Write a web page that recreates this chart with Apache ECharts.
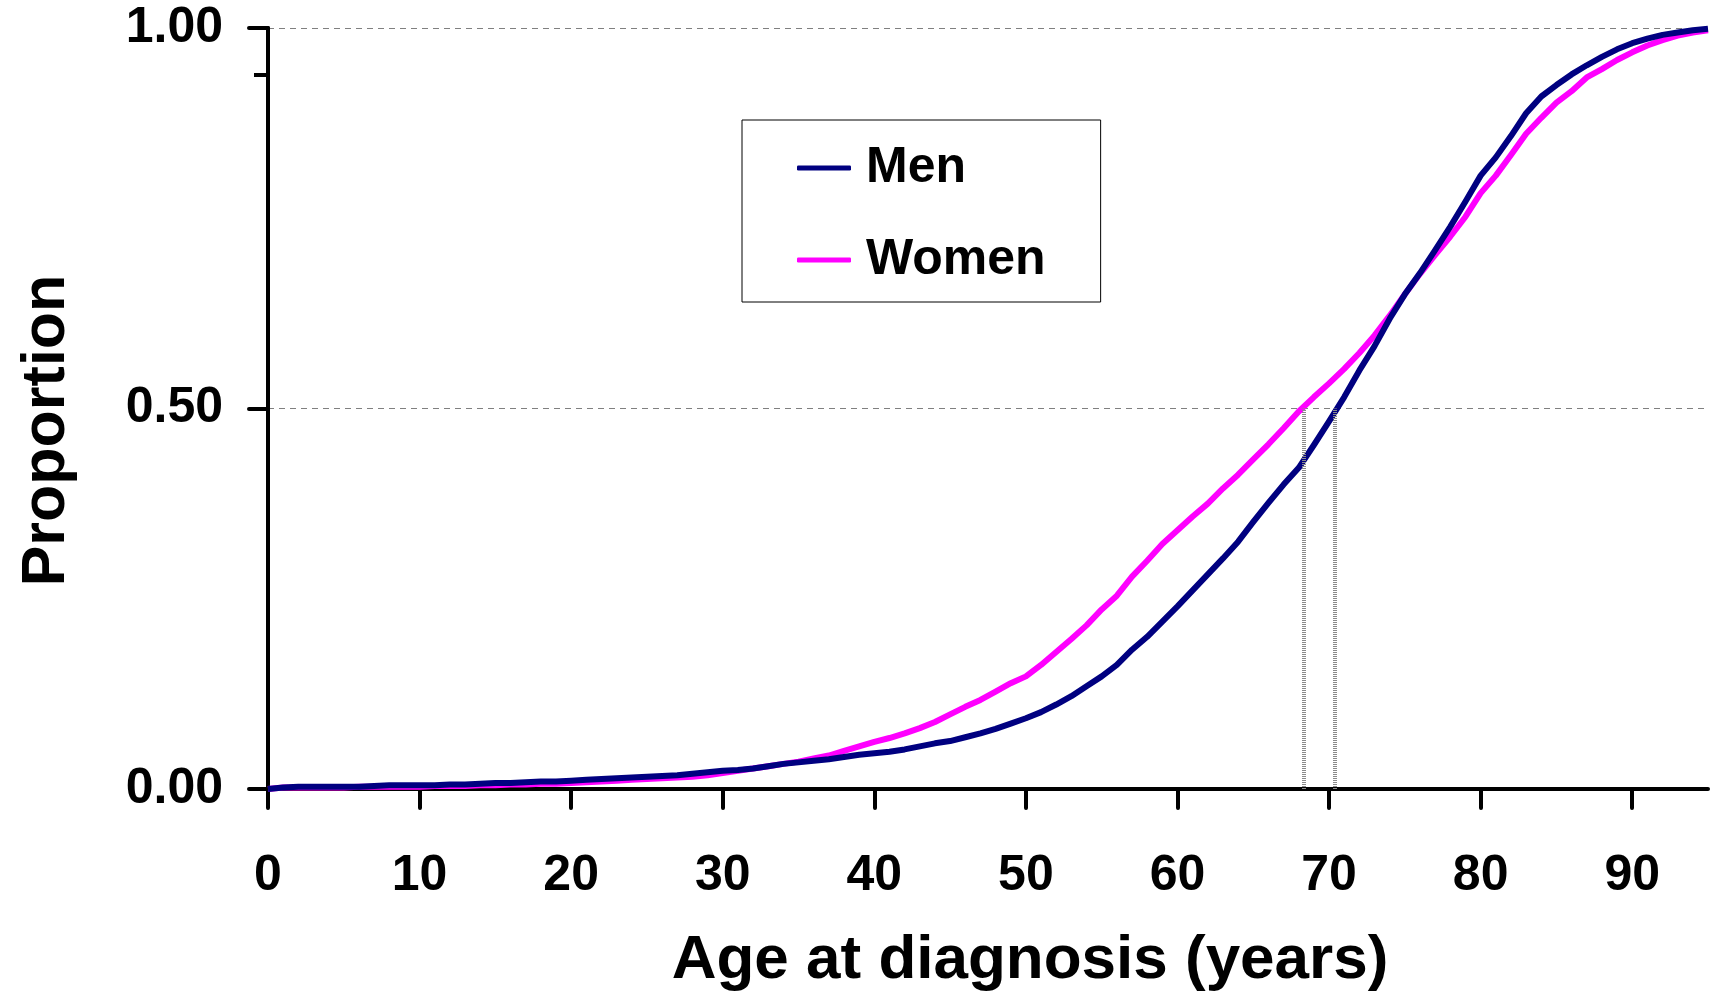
<!DOCTYPE html>
<html>
<head>
<meta charset="utf-8">
<script src="https://cdn.jsdelivr.net/npm/echarts@6/dist/echarts.min.js"></script>
<style>
html,body{margin:0;padding:0;background:#fff;}
#chart{width:1711px;height:992px;}
</style>
</head>
<body>
<div id="chart"></div>
<script>
const ages = [];
for (let a = 0; a <= 95; a++) ages.push(a);

const men = [
  0.000,0.002,0.003,0.003,0.003,0.003,0.003,0.004,0.005,0.005,
  0.005,0.005,0.006,0.006,0.007,0.008,0.008,0.009,0.010,0.010,
  0.011,0.012,0.013,0.014,0.015,0.016,0.017,0.018,0.020,0.022,
  0.024,0.025,0.027,0.030,0.033,0.035,0.037,0.039,0.042,0.045,
  0.047,0.049,0.052,0.056,0.060,0.063,0.068,0.073,0.079,0.086,
  0.093,0.101,0.111,0.122,0.135,0.148,0.163,0.183,0.200,0.220,
  0.240,0.261,0.282,0.303,0.325,0.351,0.376,0.400,0.422,0.452,
  0.483,0.515,0.550,0.582,0.618,0.650,0.678,0.708,0.739,0.772,
  0.806,0.830,0.858,0.888,0.910,0.925,0.939,0.951,0.962,0.972,
  0.980,0.986,0.991,0.994,0.997,0.999
];
const women = [
  0.000,0.002,0.002,0.002,0.002,0.002,0.003,0.003,0.003,0.003,
  0.003,0.004,0.004,0.004,0.005,0.005,0.006,0.006,0.007,0.007,
  0.008,0.009,0.010,0.011,0.012,0.013,0.014,0.015,0.016,0.018,
  0.021,0.024,0.027,0.030,0.033,0.036,0.040,0.044,0.050,0.056,
  0.062,0.067,0.073,0.080,0.088,0.098,0.108,0.117,0.128,0.139,
  0.148,0.163,0.180,0.197,0.215,0.236,0.254,0.279,0.300,0.322,
  0.340,0.358,0.375,0.395,0.413,0.433,0.453,0.474,0.496,0.515,
  0.533,0.552,0.573,0.596,0.622,0.650,0.677,0.702,0.726,0.752,
  0.783,0.806,0.833,0.861,0.882,0.902,0.917,0.935,0.946,0.958,
  0.968,0.977,0.984,0.990,0.994,0.997
];
const medianAges = [68.3, 70.4];
const xTicks = [0,10,20,30,40,50,60,70,80,90];
const yExtraTick = [0.938];

const FONT = '"Liberation Sans", Arial, sans-serif';

const chart = echarts.init(document.getElementById('chart'), null, {renderer: 'canvas'});
const option = {
  backgroundColor: '#ffffff',
  animation: false,
  grid: {left: 268, right: 3, top: 28, bottom: 203, containLabel: false, outerBoundsMode: 'none'},
  legend: {
    orient: 'vertical',
    left: 742, top: 120,
    borderColor: '#000', borderWidth: 1,
    padding: [23, 55, 17, 55],
    itemGap: 42,
    itemWidth: 54, itemHeight: 5,
    icon: 'roundRect',
    textStyle: {fontFamily: FONT, fontWeight: 'bold', fontSize: 50, color: '#000', padding: [0,0,0,10]},
    data: ['Men', 'Women']
  },
  xAxis: {
    type: 'value', min: 0, max: 95, interval: 10,
    name: 'Age at diagnosis (years)',
    nameLocation: 'middle', nameGap: 141,
    nameTextStyle: {fontFamily: FONT, fontWeight: 'bold', fontSize: 62, color: '#000', padding: [0,0,0,84]},
    axisLine: {onZero: false, lineStyle: {color: '#000', width: 4}},
    axisTick: {show: true, inside: false, length: 19, lineStyle: {color: '#000', width: 4, cap: 'round'}, customValues: xTicks},
    axisLabel: {fontFamily: FONT, fontWeight: 'bold', fontSize: 50, color: '#000', margin: 62, customValues: xTicks},
    splitLine: {show: false}
  },
  yAxis: [{
    type: 'value', min: 0, max: 1, interval: 0.5,
    name: 'Proportion',
    nameLocation: 'middle', nameGap: 190, nameRotate: 90,
    nameTextStyle: {fontFamily: FONT, fontWeight: 'bold', fontSize: 61, color: '#000', padding: [0,44,0,0]},
    axisLine: {show: true, onZero: false, lineStyle: {color: '#000', width: 4}},
    axisTick: {show: true, length: 19, lineStyle: {color: '#000', width: 4, cap: 'round'}},
    axisLabel: {fontFamily: FONT, fontWeight: 'bold', fontSize: 50, color: '#000', margin: 45,
      formatter: v => v.toFixed(2)},
    splitLine: {show: true, lineStyle: {color: '#808080', width: 1, type: [6, 5]}}
  }, {
    type: 'value', min: 0, max: 1, position: 'left',
    axisLine: {show: false},
    axisTick: {show: true, length: 14, lineStyle: {color: '#000', width: 4}, customValues: yExtraTick},
    axisLabel: {show: false},
    splitLine: {show: false}
  }],
  series: [
    {
      name: 'Men', type: 'line', symbol: 'none', showSymbol: false,
      color: '#000080',
      lineStyle: {color: '#000080', width: 6, join: 'round'},
      data: ages.map((a, i) => [a, men[i]]),
      z: 3,
      markLine: {
        silent: true, symbol: 'none', label: {show: false},
        lineStyle: {color: '#8a8a8a', width: 4, type: [1, 1]},
        data: medianAges.map(a => [{coord: [a, 0]}, {coord: [a, 0.5]}])
      }
    },
    {
      name: 'Women', type: 'line', symbol: 'none', showSymbol: false,
      color: '#ff00ff',
      lineStyle: {color: '#ff00ff', width: 6, join: 'round'},
      data: ages.map((a, i) => [a, women[i]]),
      z: 2
    }
  ]
};
chart.setOption(option);
</script>
</body>
</html>
